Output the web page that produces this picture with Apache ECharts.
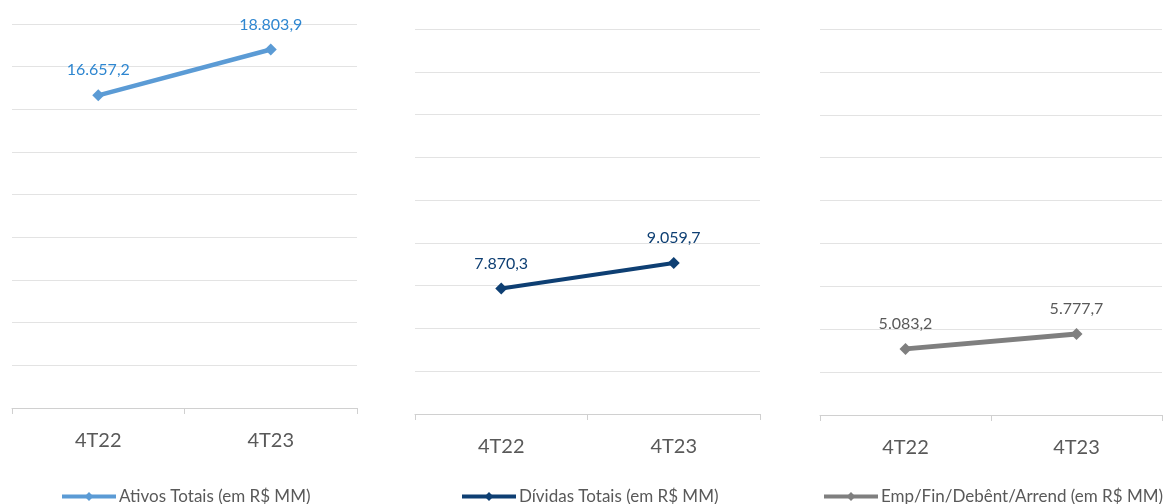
<!DOCTYPE html>
<html>
<head>
<meta charset="utf-8">
<style>
  html, body { margin: 0; padding: 0; background: #fff; }
  #chart { width: 1169px; height: 504px; }
</style>
<script src="https://cdn.jsdelivr.net/npm/echarts@6/dist/echarts.min.js"></script>
</head>
<body>
<div id="chart"></div>
<script>
// Quarter labels shared by every panel
const categories = ['4T22', '4T23'];

// Values in R$ MM
const ativosTotais = [16657.2, 18803.9];
const dividasTotais = [7870.3, 9059.7];
const empFinDebArrend = [5083.2, 5777.7];

const seriesNames = [
  'Ativos Totais (em R$ MM)',
  'Dívidas Totais (em R$ MM)',
  'Emp/Fin/Debênt/Arrend (em R$ MM)'
];

// Brazilian number format: thousands with '.', decimals with ','
function fmtBR(v) {
  const parts = v.toFixed(1).split('.');
  parts[0] = parts[0].replace(/\B(?=(\d{3})+(?!\d))/g, '.');
  return parts[0] + ',' + parts[1];
}

const FONT = 'Lato, "Open Sans", sans-serif';

const panels = [
  { data: ativosTotais, line: '#5B9BD5', label: '#2E86D0', width: 4.5,
    grid: { left: 12, width: 345, top: 24, height: 384 }, legendLeft: 55 },
  { data: dividasTotais, line: '#0E3F73', label: '#0E3F73', width: 4,
    grid: { left: 415, width: 345, top: 29, height: 385 }, legendLeft: 455 },
  { data: empFinDebArrend, line: '#7F7F7F', label: '#595959', width: 5,
    grid: { left: 820, width: 342, top: 29, height: 386 }, legendLeft: 817 }
];

const option = {
  animation: false,
  backgroundColor: '#fff',
  textStyle: { fontFamily: FONT },
  grid: panels.map(p => Object.assign({ containLabel: false }, p.grid)),
  xAxis: panels.map((p, i) => ({
    type: 'category',
    gridIndex: i,
    data: categories,
    boundaryGap: true,
    axisLine: { show: true, lineStyle: { color: '#D0D0D0', width: 1 } },
    axisTick: { show: true, length: 6, lineStyle: { color: '#D0D0D0' } },
    axisLabel: { color: '#595959', fontSize: 20, fontFamily: FONT, margin: 23 },
    splitLine: { show: false }
  })),
  yAxis: panels.map((p, i) => ({
    type: 'value',
    gridIndex: i,
    min: 2000,
    max: 20000,
    interval: 2000,
    axisLine: { show: false },
    axisTick: { show: false },
    axisLabel: { show: false },
    splitLine: { show: true, lineStyle: { color: '#E3E3E3', width: 1 } }
  })),
  legend: panels.map((p, i) => ({
    data: [seriesNames[i]],
    left: p.legendLeft,
    top: 483,
    itemWidth: 54,
    itemHeight: 11,
    itemGap: 4,
    lineStyle: { width: 4, color: p.line },
    itemStyle: { color: p.line },
    textStyle: { color: '#595959', fontSize: 17, fontFamily: FONT, padding: [0, 0, 0, -2] }
  })),
  series: panels.map((p, i) => ({
    name: seriesNames[i],
    type: 'line',
    xAxisIndex: i,
    yAxisIndex: i,
    data: p.data,
    symbol: 'diamond',
    symbolSize: 12,
    lineStyle: { color: p.line, width: p.width },
    itemStyle: { color: p.line },
    label: {
      show: true,
      position: 'top',
      distance: 11,
      color: p.label,
      fontSize: 16,
      fontFamily: FONT,
      formatter: d => fmtBR(d.value)
    }
  }))
};

const chart = echarts.init(document.getElementById('chart'), null, { renderer: 'canvas' });
chart.setOption(option);
</script>
</body>
</html>
